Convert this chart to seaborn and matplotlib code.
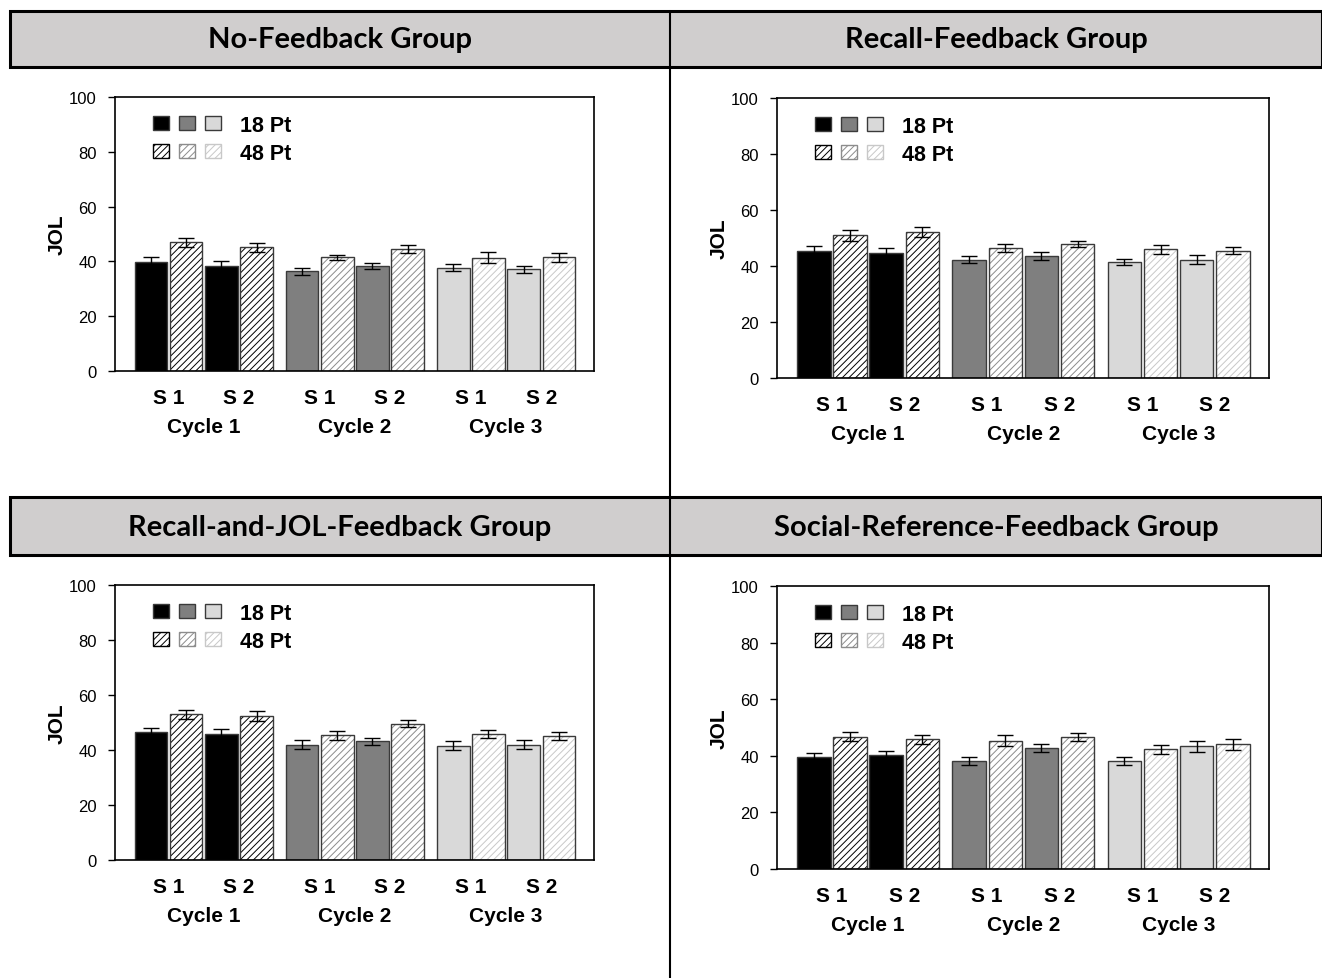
import pandas as pd
import seaborn as sns
import matplotlib.pyplot as plt
from matplotlib.patches import Patch, Rectangle
from matplotlib.lines import Line2D
from matplotlib.legend_handler import HandlerTuple

# datos (JOL medio y error estandar)
cycles = ['Cycle 1', 'Cycle 2', 'Cycle 3']
conditions = ['S 1 18 Pt', 'S 1 48 Pt', 'S 2 18 Pt', 'S 2 48 Pt']
session_labels = ['S 1', 'S 2']
legend_labels = ['18 Pt', '48 Pt']

group_names = ['No-Feedback Group', 'Recall-Feedback Group',
               'Recall-and-JOL-Feedback Group', 'Social-Reference-Feedback Group']

# orden: ciclo 1 (S1-18, S1-48, S2-18, S2-48), ciclo 2 ..., ciclo 3 ...
no_fb_jol = [39.7, 47.0, 38.2, 45.1, 36.4, 41.5, 38.3, 44.5, 37.7, 41.4, 37.1, 41.5]
no_fb_err = [2.0, 1.6, 1.8, 1.7, 1.3, 1.0, 1.1, 1.5, 1.3, 1.9, 1.3, 1.7]

recall_fb_jol = [45.3, 50.9, 44.8, 52.2, 42.3, 46.4, 43.5, 47.8, 41.4, 45.9, 42.2, 45.5]
recall_fb_err = [1.7, 1.8, 1.5, 1.9, 1.2, 1.5, 1.4, 1.0, 1.2, 1.5, 1.6, 1.3]

rj_fb_jol = [46.5, 53.0, 45.9, 52.3, 42.0, 45.4, 43.1, 49.6, 41.6, 45.9, 42.0, 45.2]
rj_fb_err = [1.4, 1.7, 1.8, 1.9, 1.5, 1.6, 1.1, 1.4, 1.6, 1.4, 1.7, 1.4]

social_fb_jol = [39.5, 46.7, 40.4, 45.8, 38.2, 45.4, 42.7, 46.8, 38.2, 42.3, 43.3, 44.0]
social_fb_err = [1.4, 1.6, 1.3, 1.6, 1.5, 1.8, 1.5, 1.4, 1.5, 1.6, 1.9, 1.8]

all_jol = [no_fb_jol, recall_fb_jol, rj_fb_jol, social_fb_jol]
all_err = [no_fb_err, recall_fb_err, rj_fb_err, social_fb_err]

cycle_colors = ['#000000', '#7f7f7f', '#d9d9d9']
hatch_colors = ['#000000', '#8c8c8c', '#c8c8c8']
OUTLINE = '#3a3a3a'
HATCH = '/////'

W, H = 1322, 979

# posiciones de los ejes en pixeles: izquierda, arriba, derecha, abajo
axes_px = [(115, 98, 594, 372), (777, 99, 1269, 379),
           (115, 586, 594, 861), (777, 587, 1269, 870)]
title_px = [(340, 40), (996, 40), (340, 528), (996, 528)]


def fx(x):
    return x / W


def fy(y):
    return 1 - y / H


rows = []
for g, name in enumerate(group_names):
    for k, (val, err) in enumerate(zip(all_jol[g], all_err[g])):
        rows.append({'group': name, 'cycle': cycles[k // 4],
                     'cond': conditions[k % 4], 'jol': val, 'err': err})
df = pd.DataFrame(rows)

sns.set_style('ticks')
plt.rcParams['font.family'] = ['Liberation Sans', 'DejaVu Sans']
plt.rcParams['hatch.linewidth'] = 0.7
for key in ['text.color', 'axes.labelcolor', 'xtick.color', 'ytick.color']:
    plt.rcParams[key] = 'black'

fig = plt.figure(figsize=(W / 100, H / 100), dpi=100)

# bandas grises de los encabezados y lineas separadoras
for top, bottom in [(12, 68), (498, 556)]:
    fig.add_artist(Rectangle((fx(10), fy(bottom)), fx(W - 10), (bottom - top) / H,
                             transform=fig.transFigure, facecolor='#d0cece',
                             edgecolor='black', linewidth=2.2, zorder=0))
fig.add_artist(Line2D([fx(670), fx(670)], [fy(12), 0], transform=fig.transFigure,
                      color='black', linewidth=1.5))

for g, name in enumerate(group_names):
    tx, ty = title_px[g]
    fig.text(fx(tx), fy(ty), name, ha='center', va='center', fontsize=21,
             fontweight='bold', family=['Lato', 'DejaVu Sans'])

    l, t, r, b = axes_px[g]
    ax = fig.add_axes([fx(l), fy(b), (r - l) / W, (b - t) / H])
    sub = df[df['group'] == name]

    sns.barplot(data=sub, x='cycle', y='jol', hue='cond', order=cycles,
                hue_order=conditions, width=0.932, gap=0.074, errorbar=None,
                legend=False, ax=ax)

    xs, ys, es = [], [], []
    for i, cont in enumerate(ax.containers):
        hatched = '48' in conditions[i]
        for j, bar in enumerate(cont):
            row = sub[(sub['cycle'] == cycles[j]) & (sub['cond'] == conditions[i])].iloc[0]
            if hatched:
                bar.set_facecolor('white')
                bar.set_edgecolor(hatch_colors[j])
                bar.set_hatch(HATCH)
                bar.set_linewidth(0)
                ax.add_patch(Rectangle(bar.get_xy(), bar.get_width(), bar.get_height(),
                                       fill=False, edgecolor=OUTLINE, linewidth=1.0,
                                       zorder=bar.get_zorder() + 0.1))
            else:
                bar.set_facecolor(cycle_colors[j])
                bar.set_edgecolor(OUTLINE)
                bar.set_linewidth(1.0)
            xs.append(bar.get_x() + bar.get_width() / 2)
            ys.append(row['jol'])
            es.append(row['err'])

    ax.errorbar(xs, ys, yerr=es, fmt='none', ecolor='black', elinewidth=1.0,
                capsize=6, capthick=1.0, zorder=5)

    ax.set_xlim(-0.587, 2.582)
    ax.set_ylim(0, 100)
    ax.set_yticks([0, 20, 40, 60, 80, 100])
    ax.tick_params(axis='y', length=5, width=1, pad=8, labelsize=12)

    # etiquetas de sesion como ticks, ciclo como texto debajo
    offs = 0.233
    sx = [c + d for c in range(len(cycles)) for d in (-offs, offs)]
    ax.set_xticks(sx)
    ax.set_xticklabels(session_labels * len(cycles), fontsize=15, fontweight='bold')
    ax.tick_params(axis='x', length=0, pad=12)
    for c, lab in enumerate(cycles):
        ax.text(c, -56 / (b - t), lab, transform=ax.get_xaxis_transform(),
                ha='center', va='center', fontsize=15, fontweight='bold')

    ax.set_xlabel('')
    ax.set_ylabel('JOL', fontsize=15, fontweight='bold', labelpad=2)

    for sp in ax.spines.values():
        sp.set_visible(True)
        sp.set_color('black')
        sp.set_linewidth(1.2)

    solid = tuple(Patch(facecolor=c, edgecolor=OUTLINE, linewidth=1.0) for c in cycle_colors)
    hatch = tuple(Patch(facecolor='white', edgecolor=hc, hatch=HATCH, linewidth=1.0)
                  for hc in hatch_colors)
    leg = ax.legend([solid, hatch], legend_labels,
                    handler_map={tuple: HandlerTuple(ndivide=None, pad=0.48)},
                    loc='upper left', bbox_to_anchor=(38 / (r - l), 1 - 18 / (b - t)),
                    frameon=False, borderpad=0, borderaxespad=0, handlelength=3.14,
                    handleheight=0.62, handletextpad=0.88, labelspacing=0.31,
                    prop={'weight': 'bold', 'size': 15.5})

fig.savefig('out.png', dpi=100)
